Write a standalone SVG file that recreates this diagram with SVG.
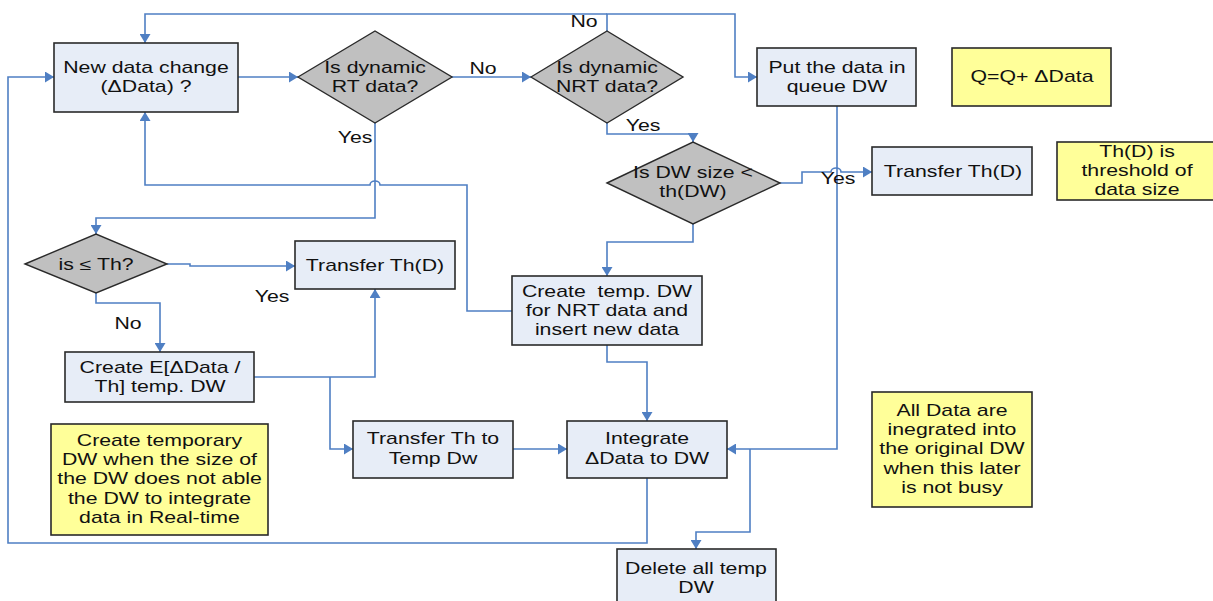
<svg xmlns="http://www.w3.org/2000/svg" width="1213" height="601" viewBox="0 0 1213 601">
<style>
.box{fill:#E7EDF7;stroke:#2a2a2a;stroke-width:1.6}
.dia{fill:#C0C0C0;stroke:#2a2a2a;stroke-width:1.4}
.note{fill:#FFFF99;stroke:#2a2a2a;stroke-width:1.6}
.con{fill:none;stroke:#4F7FC3;stroke-width:1.6}
.arr{marker-end:url(#ah)}
text{font-family:"Liberation Sans",Arial,sans-serif;font-size:16px;fill:#111;text-anchor:middle}
</style>
<defs>
<marker id="ah" viewBox="0 0 9 11" refX="9" refY="5.5" markerWidth="9" markerHeight="11" markerUnits="userSpaceOnUse" orient="auto">
<path d="M0,0 L9,5.5 L0,11 z" fill="#4F7FC3"/>
</marker>
</defs>
<rect width="1213" height="601" fill="#fff"/>
<g id="connectors">
<path class="con arr" d="M238,77 H298"/>
<path class="con arr" d="M452,77 H531"/>
<path class="con arr" d="M607,31 V14 H735 V77 H757"/>
<path class="con arr" d="M607,14 H145 V43"/>
<path class="con arr" d="M375,123 V218 H96 V234"/>
<path class="con arr" d="M607,123 V134 H693 V142"/>
<path class="con arr" d="M780,183 H802 V172 H831 A5,4 0 0 1 841,172 H872"/>
<path class="con arr" d="M693,224 V242 H607 V276"/>
<path class="con arr" d="M512,311 H467 V185 H380 A5,4 0 0 0 370,185 H145 V112"/>
<path class="con arr" d="M167,264 H190 V266 H295"/>
<path class="con arr" d="M96,293 V303 H160 V352"/>
<path class="con arr" d="M254,377 H375 V289"/>
<path class="con arr" d="M330,377 V449 H353"/>
<path class="con arr" d="M513,449 H567"/>
<path class="con arr" d="M607,345 V362 H647 V421"/>
<path class="con arr" d="M837,106 V449 H727"/>
<path class="con arr" d="M750,449 V532 H696 V549"/>
<path class="con arr" d="M647,478 V543 H8 V77 H54"/>
</g>
<g id="labels">
<text transform="translate(355 0) scale(1.33 1)" y="143">Yes</text>
<text transform="translate(483 0) scale(1.33 1)" y="74">No</text>
<text transform="translate(584 0) scale(1.33 1)" y="27">No</text>
<text transform="translate(643 0) scale(1.33 1)" y="131">Yes</text>
<text transform="translate(838 0) scale(1.33 1)" y="184">Yes</text>
<text transform="translate(272 0) scale(1.33 1)" y="302">Yes</text>
<text transform="translate(128 0) scale(1.33 1)" y="329">No</text>
</g>
<g id="new-data">
<rect class="box" x="54" y="43" width="184" height="69"/>
<text transform="translate(146 0) scale(1.33 1)"><tspan x="0" y="73">New data change</tspan><tspan x="0" y="92">(ΔData) ?</tspan></text>
</g>
<g id="is-rt">
<polygon class="dia" points="298,77 375,31 452,77 375,123"/>
<text transform="translate(375 0) scale(1.33 1)"><tspan x="0" y="73">Is dynamic</tspan><tspan x="0" y="92">RT data?</tspan></text>
</g>
<g id="is-nrt">
<polygon class="dia" points="531,77 607,31 683,77 607,123"/>
<text transform="translate(607 0) scale(1.33 1)"><tspan x="0" y="73">Is dynamic</tspan><tspan x="0" y="92">NRT data?</tspan></text>
</g>
<g id="put-queue">
<rect class="box" x="757" y="48" width="159" height="58"/>
<text transform="translate(837 0) scale(1.33 1)"><tspan x="0" y="73">Put the data in</tspan><tspan x="0" y="92">queue DW</tspan></text>
</g>
<g id="note-q">
<rect class="note" x="952" y="48" width="159" height="58"/>
<text transform="translate(1032 0) scale(1.33 1)" y="82">Q=Q+ ΔData</text>
</g>
<g id="is-dw-size">
<polygon class="dia" points="607,183 693,142 780,183 693,224"/>
<text transform="translate(693 0) scale(1.33 1)"><tspan x="0" y="178">Is DW size &lt;</tspan><tspan x="0" y="197">th(DW)</tspan></text>
</g>
<g id="transfer-thd-right">
<rect class="box" x="872" y="147" width="160" height="48"/>
<text transform="translate(953 0) scale(1.33 1)" y="177">Transfer Th(D)</text>
</g>
<g id="note-thd">
<rect class="note" x="1057" y="142" width="160" height="58"/>
<text transform="translate(1137 0) scale(1.33 1)"><tspan x="0" y="157">Th(D) is</tspan><tspan x="0" y="176">threshold of</tspan><tspan x="0" y="195">data size</tspan></text>
</g>
<g id="is-le-th">
<polygon class="dia" points="25,264 96,234 167,264 96,293"/>
<text transform="translate(96 0) scale(1.33 1)" y="270">is ≤ Th?</text>
</g>
<g id="transfer-thd-left">
<rect class="box" x="295" y="241" width="160" height="48"/>
<text transform="translate(375 0) scale(1.33 1)" y="271">Transfer Th(D)</text>
</g>
<g id="create-e">
<rect class="box" x="65" y="352" width="189" height="50"/>
<text transform="translate(160 0) scale(1.33 1)"><tspan x="0" y="373">Create E[ΔData /</tspan><tspan x="0" y="392">Th] temp. DW</tspan></text>
</g>
<g id="create-temp-nrt">
<rect class="box" x="512" y="276" width="190" height="69"/>
<text transform="translate(607 0) scale(1.33 1)" xml:space="preserve"><tspan x="0" y="297">Create  temp. DW</tspan><tspan x="0" y="316">for NRT data and</tspan><tspan x="0" y="335">insert new data</tspan></text>
</g>
<g id="transfer-temp">
<rect class="box" x="353" y="421" width="160" height="57"/>
<text transform="translate(433 0) scale(1.33 1)"><tspan x="0" y="444">Transfer Th to</tspan><tspan x="0" y="464">Temp Dw</tspan></text>
</g>
<g id="integrate">
<rect class="box" x="567" y="421" width="160" height="57"/>
<text transform="translate(647 0) scale(1.33 1)"><tspan x="0" y="444">Integrate</tspan><tspan x="0" y="464">ΔData to DW</tspan></text>
</g>
<g id="delete-temp">
<rect class="box" x="617" y="549" width="159" height="60"/>
<text transform="translate(696 0) scale(1.33 1)"><tspan x="0" y="574">Delete all temp</tspan><tspan x="0" y="593">DW</tspan></text>
</g>
<g id="note-create-temp">
<rect class="note" x="51" y="424" width="217" height="111"/>
<text transform="translate(159.5 0) scale(1.33 1)"><tspan x="0" y="446">Create temporary</tspan><tspan x="0" y="465">DW when the size of</tspan><tspan x="0" y="484">the DW does not able</tspan><tspan x="0" y="504">the DW to integrate</tspan><tspan x="0" y="523">data in Real-time</tspan></text>
</g>
<g id="note-all-data">
<rect class="note" x="872" y="392" width="160" height="115"/>
<text transform="translate(952 0) scale(1.33 1)"><tspan x="0" y="416">All Data are</tspan><tspan x="0" y="435">inegrated into</tspan><tspan x="0" y="454">the original DW</tspan><tspan x="0" y="474">when this later</tspan><tspan x="0" y="493">is not busy</tspan></text>
</g>
</svg>
